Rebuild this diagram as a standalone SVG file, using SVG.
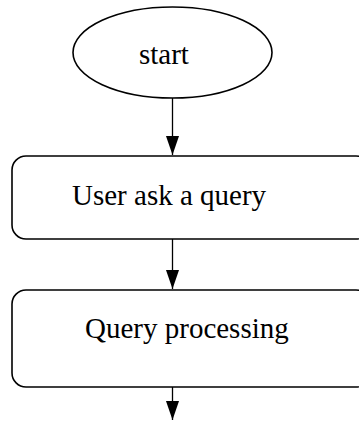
<svg xmlns="http://www.w3.org/2000/svg" width="359" height="421" viewBox="0 0 359 421">
<style>
.shape{fill:#fff;stroke:#000;stroke-width:1.6}
.lbl{font-family:"Liberation Serif","Times New Roman",serif;font-size:29px;fill:#000}
.conn{stroke:#000;stroke-width:1.3;fill:none}
</style>
<defs>
<marker id="ah" markerWidth="19" markerHeight="13" refX="19" refY="6.5" orient="auto" markerUnits="userSpaceOnUse" viewBox="0 0 19 13">
<path d="M0,0 L19,6.5 L0,13 Z" fill="#000"/>
</marker>
</defs>
<rect width="359" height="421" fill="#fff"/>
<g id="start">
<ellipse class="shape" cx="172.5" cy="52.5" rx="99.5" ry="45.5"/>
<text class="lbl" x="139" y="64">start</text>
</g>
<g id="user-ask">
<rect class="shape" x="12" y="156" width="358" height="83" rx="14"/>
<text class="lbl" x="72" y="205">User ask a query</text>
</g>
<g id="query-processing">
<rect class="shape" x="12" y="290" width="358" height="97" rx="14"/>
<text class="lbl" x="85" y="338">Query processing</text>
</g>
<g id="connectors">
<line class="conn" x1="172.5" y1="98" x2="172.5" y2="155" marker-end="url(#ah)"/>
<line class="conn" x1="172.5" y1="239" x2="172.5" y2="289" marker-end="url(#ah)"/>
<line class="conn" x1="172.5" y1="387" x2="172.5" y2="420" marker-end="url(#ah)"/>
</g>
</svg>
